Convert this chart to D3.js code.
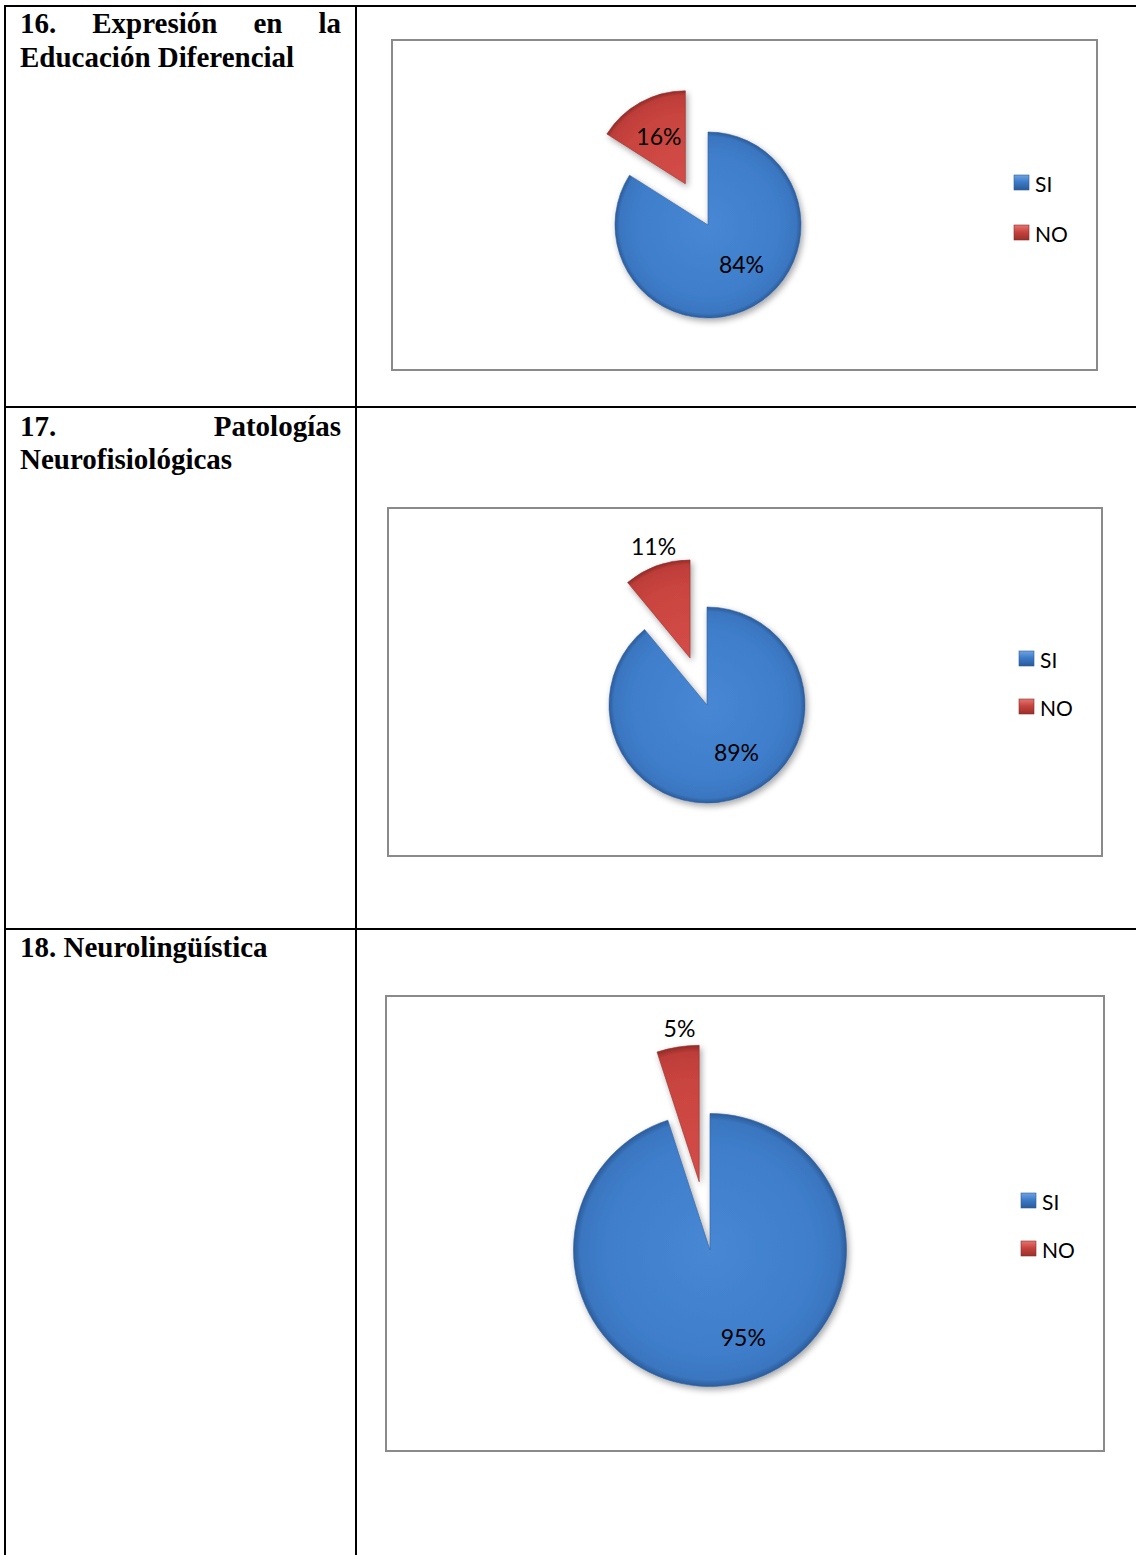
<!DOCTYPE html>
<html>
<head>
<meta charset="utf-8">
<script src="https://cdn.jsdelivr.net/npm/d3@7"></script>
<style>
html,body{margin:0;padding:0;background:#fff;}
svg{display:block;}
</style>
</head>
<body>
<svg id="c" width="1136" height="1555"></svg>
<script>
// ---- data ----
const titles = [
  "16. Expresión en la Educación Diferencial",
  "17. Patologías Neurofisiológicas",
  "18. Neurolingüística"
];
const categories = ["SI", "NO"];
const siValues = [84, 89, 95];
const noValues = [16, 11, 5];

// ---- layout (positions/sizes only) ----
const rowTops = [6, 407, 929];
const titleLines = [[33, 67], [436, 469], [957]];
const charts = [
  {box:[392,40,1097,370],  cx:708, cy:225,  r:93,    explode:47, legX:1014, legY:[175,225],  siLab:0.55, noLab:0.59},
  {box:[388,508,1102,856], cx:707, cy:705,  r:98,    explode:50, legX:1019, legY:[651,699],  siLab:0.57, noLab:1.20},
  {box:[386,996,1104,1451],cx:710, cy:1250, r:136.5, explode:69, legX:1021, legY:[1193,1241],siLab:0.68, noLab:1.14}
];

const svg = d3.select("#c");
const defs = svg.append("defs");

function linear(id, stops){
  const g = defs.append("linearGradient").attr("id", id)
    .attr("x1","0").attr("y1","0").attr("x2","0").attr("y2","1");
  stops.forEach(s => g.append("stop").attr("offset", s[0]).attr("stop-color", s[1]));
}
linear("legBlue", [["0","#6fa3e3"],["0.45","#3d7cc9"],["1","#2a5a99"]]);
linear("legRed",  [["0","#e27774"],["0.45","#c9443f"],["1","#97302c"]]);

const f = defs.append("filter").attr("id","shadow")
  .attr("x","-20%").attr("y","-20%").attr("width","140%").attr("height","140%");
f.append("feDropShadow").attr("dx",2).attr("dy",3).attr("stdDeviation",3)
  .attr("flood-color","#000").attr("flood-opacity",0.35);

const color = d3.scaleOrdinal().domain(categories).range(["#3d7cc9", "#c9443f"]);

// ---- table ----
const tbl = svg.append("g").attr("stroke","#000").attr("stroke-width",2);
tbl.append("line").attr("x1",5).attr("x2",5).attr("y1",5).attr("y2",1555);
tbl.append("line").attr("x1",356).attr("x2",356).attr("y1",5).attr("y2",1555);
rowTops.forEach(y => tbl.append("line").attr("x1",4).attr("x2",1136).attr("y1",y).attr("y2",y));

// ---- titles (justified, Times bold) ----
const TX0 = 20, TX1 = 341;
function drawTitle(text, baselines){
  const words = text.split(" ");
  const g = svg.append("g")
    .attr("font-family","'Liberation Serif','Times New Roman',serif")
    .attr("font-weight","bold").attr("font-size",29).attr("fill","#000");
  const tmp = g.append("text");
  const wW = words.map(w => { tmp.text(w); return tmp.node().getComputedTextLength(); });
  tmp.text("a a"); const a2 = tmp.node().getComputedTextLength();
  tmp.text("aa"); const spaceW = a2 - tmp.node().getComputedTextLength();
  tmp.remove();
  const lines = []; let cur = [], curW = 0;
  words.forEach((w,i) => {
    const add = cur.length ? spaceW + wW[i] : wW[i];
    if (cur.length && curW + add > TX1 - TX0) { lines.push(cur); cur = [i]; curW = wW[i]; }
    else { cur.push(i); curW += add; }
  });
  if (cur.length) lines.push(cur);
  lines.forEach((ln, li) => {
    const y = baselines[li] !== undefined ? baselines[li] : baselines[0] + 34*li;
    const last = li === lines.length - 1;
    const total = ln.reduce((s,i) => s + wW[i], 0);
    const gap = (!last && ln.length > 1) ? (TX1 - TX0 - total) / (ln.length - 1) : spaceW;
    let x = TX0;
    ln.forEach(i => {
      g.append("text").attr("x", x).attr("y", y).text(words[i]);
      x += wW[i] + gap;
    });
  });
}
titles.forEach((t,i) => drawTitle(t, titleLines[i]));

// ---- pies ----
const pie = d3.pie().sort(null).value(d => d.value);

charts.forEach((c, ci) => {
  const data = [
    {cat: categories[0], value: siValues[ci]},
    {cat: categories[1], value: noValues[ci]}
  ];
  const g = svg.append("g");
  const [bx0, by0, bx1, by1] = c.box;
  g.append("rect").attr("x",bx0).attr("y",by0).attr("width",bx1-bx0).attr("height",by1-by0)
    .attr("fill","#fff").attr("stroke","#8a8a8a").attr("stroke-width",2);

  const gid = "g" + ci;
  [["B", "#4787d4", "#3f7ecb", "#3a76c0", "#2c5c9a"], ["R", "#d44d49", "#c9443f", "#bd3d39", "#922b27"]]
  .forEach(([k, c0, c1, c2, c3]) => {
    const rg = defs.append("radialGradient").attr("id", gid + k)
      .attr("gradientUnits","userSpaceOnUse")
      .attr("cx", 0).attr("cy", 0).attr("r", c.r)
      .attr("fx", 0).attr("fy", 0);
    rg.append("stop").attr("offset","0").attr("stop-color", c0);
    rg.append("stop").attr("offset","0.75").attr("stop-color", c1);
    rg.append("stop").attr("offset","0.95").attr("stop-color", c2);
    rg.append("stop").attr("offset","1").attr("stop-color", c3);
  });

  const arc = d3.arc().innerRadius(0).outerRadius(c.r);
  const arcs = pie(data);

  arcs.forEach((a, i) => {
    const mid = (a.startAngle + a.endAngle) / 2;
    const off = i === 1 ? c.explode : 0;
    const ox = c.cx + off * Math.sin(mid);
    const oy = c.cy - off * Math.cos(mid);
    const sg = g.append("g").attr("transform", `translate(${ox},${oy})`);
    sg.append("path").attr("d", arc(a))
      .attr("fill", `url(#${gid}${i === 0 ? "B" : "R"})`)
      .attr("stroke", i === 0 ? "#30609f" : "#94302c").attr("stroke-width", 0.6)
      .attr("filter","url(#shadow)");

    const fac = i === 0 ? c.siLab : c.noLab;
    const ang = i === 0 ? mid - 0.21 : mid + (fac > 1 ? 0.03 : 0);
    const lx = fac * c.r * Math.sin(ang);
    const ly = -fac * c.r * Math.cos(ang);
    sg.append("text").attr("x", lx).attr("y", ly)
      .attr("text-anchor","middle").attr("dominant-baseline","central")
      .attr("font-family","Lato, 'Open Sans', sans-serif").attr("font-size",23)
      .attr("fill","#000").text(Math.round(a.value) + "%");
  });

  categories.forEach((cat, i) => {
    const y = c.legY[i];
    g.append("rect").attr("x", c.legX).attr("y", y).attr("width",15).attr("height",15)
      .attr("fill", i === 0 ? "url(#legBlue)" : "url(#legRed)")
      .attr("stroke", i === 0 ? "#2b5a96" : "#8e2a26").attr("stroke-width",0.6);
    g.append("text").attr("x", c.legX + 21).attr("y", y + 8)
      .attr("dominant-baseline","central")
      .attr("font-family","Lato, 'Open Sans', sans-serif").attr("font-size",21)
      .attr("fill","#000").text(cat);
  });
});
</script>
</body>
</html>
